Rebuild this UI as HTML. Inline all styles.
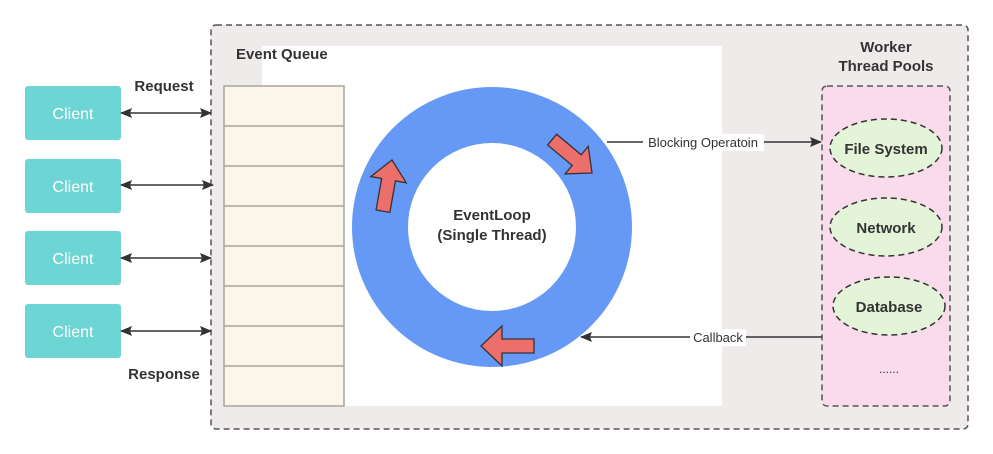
<!DOCTYPE html>
<html><head><meta charset="utf-8"><style>
html,body{margin:0;padding:0;background:#fff;width:993px;height:454px;overflow:hidden}
svg{display:block}
text{font-family:"Liberation Sans",sans-serif;fill:#333}
</style></head><body>
<svg width="993" height="454" viewBox="0 0 993 454" xmlns="http://www.w3.org/2000/svg">
<defs>
<marker id="ah" markerWidth="12" markerHeight="10" refX="11" refY="5" orient="auto-start-reverse" markerUnits="userSpaceOnUse">
<path d="M0,0 L12,5 L0,10 L2,5 Z" fill="#333"/></marker>
</defs>
<rect x="211" y="25" width="757" height="404" rx="5" fill="#efebea" stroke="#555" stroke-width="1.5" stroke-dasharray="6,4"/>
<rect x="262" y="46" width="460" height="360" fill="#fff"/>
<text x="236" y="59" font-size="15" font-weight="bold">Event Queue</text>
<rect x="224" y="86" width="120" height="320" fill="#faf7ea" stroke="#aaa49a" stroke-width="1.5"/>
<g stroke="#aaa49a" stroke-width="1.5">
<line x1="224" y1="126" x2="344" y2="126"/><line x1="224" y1="166" x2="344" y2="166"/>
<line x1="224" y1="206" x2="344" y2="206"/><line x1="224" y1="246" x2="344" y2="246"/>
<line x1="224" y1="286" x2="344" y2="286"/><line x1="224" y1="326" x2="344" y2="326"/>
<line x1="224" y1="366" x2="344" y2="366"/></g>
<circle cx="492" cy="227" r="112" fill="none" stroke="#6699f5" stroke-width="56"/>
<text x="492" y="220" font-size="15" font-weight="bold" text-anchor="middle">EventLoop</text>
<text x="492" y="240" font-size="15" font-weight="bold" text-anchor="middle">(Single Thread)</text>
<g fill="#ec6f6b" stroke="#333" stroke-width="1.3">
<polygon points="0,0 21,-20 21,-7 53,-7 53,7 21,7 21,20" transform="translate(481,346)"/>
<polygon points="0,0 20,-18 20,-7 52,-7 52,7 20,7 20,18" transform="translate(592,173) rotate(-140)"/>
<polygon points="0,0 20,-18 20,-7 52,-7 52,7 20,7 20,18" transform="translate(392,160) rotate(100)"/>
</g>
<text x="886" y="52" font-size="15" font-weight="bold" text-anchor="middle">Worker</text>
<text x="886" y="71" font-size="15" font-weight="bold" text-anchor="middle">Thread Pools</text>
<rect x="822" y="86" width="128" height="320" rx="5" fill="#f9dbeb" stroke="#555" stroke-width="1.5" stroke-dasharray="6,4"/>
<g fill="#e3f4d9" stroke="#333" stroke-width="1.5" stroke-dasharray="6,4">
<ellipse cx="886" cy="148" rx="56" ry="29"/>
<ellipse cx="886" cy="227" rx="56" ry="29"/>
<ellipse cx="889" cy="306" rx="56" ry="29"/></g>
<text x="886" y="154" font-size="15" font-weight="bold" text-anchor="middle">File System</text>
<text x="886" y="233" font-size="15" font-weight="bold" text-anchor="middle">Network</text>
<text x="889" y="312" font-size="15" font-weight="bold" text-anchor="middle">Database</text>
<text x="889" y="373" font-size="12" text-anchor="middle">......</text>
<line x1="607" y1="142" x2="821" y2="142" stroke="#333" stroke-width="1.5" marker-end="url(#ah)"/>
<rect x="643" y="134" width="121" height="17" fill="#fff"/>
<text x="703" y="147" font-size="13" text-anchor="middle">Blocking Operatoin</text>
<line x1="822" y1="337" x2="581" y2="337" stroke="#333" stroke-width="1.5" marker-end="url(#ah)"/>
<rect x="690" y="329" width="56" height="17" fill="#fff"/>
<text x="718" y="342" font-size="13" text-anchor="middle">Callback</text>
<g fill="#6dd5d4">
<rect x="25" y="86" width="96" height="54" rx="3"/>
<rect x="25" y="159" width="96" height="54" rx="3"/>
<rect x="25" y="231" width="96" height="54" rx="3"/>
<rect x="25" y="304" width="96" height="54" rx="3"/></g>
<g font-size="16" text-anchor="middle">
<text x="73" y="119" style="fill:#fff">Client</text>
<text x="73" y="192" style="fill:#fff">Client</text>
<text x="73" y="264" style="fill:#fff">Client</text>
<text x="73" y="337" style="fill:#fff">Client</text></g>
<g stroke="#333" stroke-width="1.5">
<line x1="121" y1="113" x2="211" y2="113" marker-start="url(#ah)" marker-end="url(#ah)"/>
<line x1="121" y1="185" x2="213" y2="185" marker-start="url(#ah)" marker-end="url(#ah)"/>
<line x1="121" y1="258" x2="211" y2="258" marker-start="url(#ah)" marker-end="url(#ah)"/>
<line x1="121" y1="331" x2="211" y2="331" marker-start="url(#ah)" marker-end="url(#ah)"/></g>
<text x="164" y="91" font-size="15" font-weight="bold" text-anchor="middle">Request</text>
<text x="164" y="379" font-size="15" font-weight="bold" text-anchor="middle">Response</text>
</svg>
</body></html>
